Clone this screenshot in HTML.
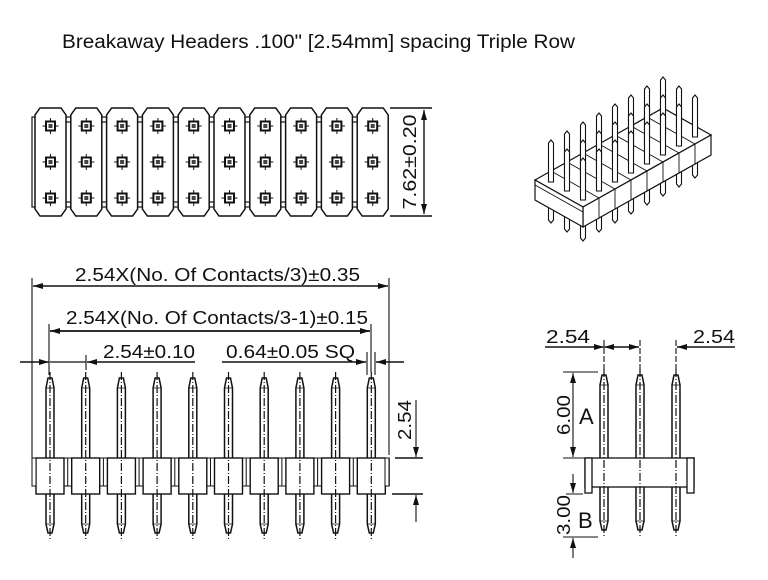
<!DOCTYPE html>
<html><head><meta charset="utf-8"><style>
html,body{margin:0;padding:0;background:#fff;}
svg{display:block;}
text{font-family:"Liberation Sans",Arial,sans-serif;fill:#111;}
</style></head><body>
<svg width="768" height="580" viewBox="0 0 768 580" xmlns="http://www.w3.org/2000/svg">
<defs>
  <marker id="ar" viewBox="0 0 10 6" refX="10" refY="3" markerWidth="10" markerHeight="6" markerUnits="userSpaceOnUse" orient="auto-start-reverse">
    <path d="M0,0 L10,3 L0,6 Z" fill="#111"/>
  </marker>
  <g id="mk">
    <path d="M-8,0 H8 M0,-8 V8" stroke="#111" stroke-width="1"/>
    <rect x="-4.5" y="-4.5" width="9" height="9" fill="#fff" stroke="#111" stroke-width="2"/>
    <rect x="-2" y="-2" width="4" height="4" fill="#444"/>
  </g>
  <g id="tb">
    <rect x="30" y="9" width="6" height="5" fill="#fff" stroke="#111" stroke-width="1.2"/>
    <rect x="30" y="94" width="6" height="5" fill="#fff" stroke="#111" stroke-width="1.2"/>
    <path d="M5,0 H26 L31,7 V101 L26,108 H5 L0,101 V7 Z" fill="#fff" stroke="#111" stroke-width="1.5"/>
    <use href="#mk" x="15.5" y="18"/>
    <use href="#mk" x="15.5" y="54"/>
    <use href="#mk" x="15.5" y="90"/>
  </g>
  <g id="fp">
    <path d="M-4,388 L-2,378 H2 L4,388 V524 L2,533 H-2 L-4,524 Z" fill="#fff" stroke="#111" stroke-width="1.5"/>
    <path d="M-4,388 H4 M-4,524 H4" stroke="#111" stroke-width="0.8"/>
  </g>
  <g id="cl">
    <path d="M0,372 V540" stroke="#111" stroke-width="1.2" stroke-dasharray="8,2,1,2"/>
  </g>
  <g id="fh">
    <rect x="-18" y="458" width="36" height="28" fill="#fff" stroke="#111" stroke-width="1"/>
    <rect x="-14" y="458" width="28" height="36" fill="#fff" stroke="#111" stroke-width="1.4"/>
  </g>
  <g id="ip">
    <path d="M-2.5,3 L0,0 L2.5,3 V42 H-2.5 Z" fill="#fff" stroke="#111" stroke-width="1.1"/>
  </g>
  <g id="lp">
    <path d="M-2.5,40 V80 L0,83 L2.5,80 V40" fill="#fff" stroke="#111" stroke-width="1.1"/>
  </g>
</defs>

<text x="62" y="48" font-size="19" textLength="513" lengthAdjust="spacingAndGlyphs">Breakaway Headers .100" [2.54mm] spacing Triple Row</text>

<!-- top view -->
<rect x="32" y="117" width="4" height="90" fill="#fff" stroke="#111" stroke-width="1.2"/>
<use href="#tb" x="35" y="108"/>
<use href="#tb" x="70.8" y="108"/>
<use href="#tb" x="106.6" y="108"/>
<use href="#tb" x="142.4" y="108"/>
<use href="#tb" x="178.2" y="108"/>
<use href="#tb" x="214" y="108"/>
<use href="#tb" x="249.8" y="108"/>
<use href="#tb" x="285.6" y="108"/>
<use href="#tb" x="321.4" y="108"/>
<path d="M362.2,108 H383.2 L388.2,115 V209 L383.2,216 H362.2 L357.2,209 V115 Z" fill="#fff" stroke="#111" stroke-width="1.5"/>
<use href="#mk" x="372.7" y="126"/><use href="#mk" x="372.7" y="162"/><use href="#mk" x="372.7" y="198"/>
<path d="M390,108 H432 M390,216 H432" stroke="#111" stroke-width="1.4"/>
<path d="M424,110 V214" stroke="#111" stroke-width="1.4" marker-start="url(#ar)" marker-end="url(#ar)"/>
<text transform="translate(416,162) rotate(-90)" text-anchor="middle" font-size="18" textLength="95" lengthAdjust="spacingAndGlyphs">7.62±0.20</text>

<!-- front view -->
<use href="#fp" x="50"/><use href="#fp" x="85.7"/><use href="#fp" x="121.4"/><use href="#fp" x="157.1"/><use href="#fp" x="192.8"/>
<use href="#fp" x="228.5"/><use href="#fp" x="264.2"/><use href="#fp" x="299.9"/><use href="#fp" x="335.6"/><use href="#fp" x="371.3"/>
<rect x="32" y="458" width="357" height="28" fill="#fff" stroke="#111" stroke-width="1"/>
<use href="#fh" x="50"/><use href="#fh" x="85.7"/><use href="#fh" x="121.4"/><use href="#fh" x="157.1"/><use href="#fh" x="192.8"/>
<use href="#fh" x="228.5"/><use href="#fh" x="264.2"/><use href="#fh" x="299.9"/><use href="#fh" x="335.6"/><use href="#fh" x="371.3"/>
<rect x="32" y="458" width="4" height="28" fill="#fff" stroke="#111" stroke-width="1"/>
<rect x="385" y="458" width="4" height="28" fill="#fff" stroke="#111" stroke-width="1"/>
<use href="#cl" x="50"/><use href="#cl" x="85.7"/><use href="#cl" x="121.4"/><use href="#cl" x="157.1"/><use href="#cl" x="192.8"/>
<use href="#cl" x="228.5"/><use href="#cl" x="264.2"/><use href="#cl" x="299.9"/><use href="#cl" x="335.6"/><use href="#cl" x="371.3"/>

<!-- dims front -->
<path d="M32,278 V458 M389,278 V455 M49,324 V375 M371,324 V372 M86,355 V370 M367,352 V375 M375,352 V375" stroke="#111" stroke-width="1.1"/>
<path d="M33,286 H388" stroke="#111" stroke-width="1.4" marker-start="url(#ar)" marker-end="url(#ar)"/>
<text x="75" y="281" font-size="18" textLength="285" lengthAdjust="spacingAndGlyphs">2.54X(No. Of Contacts/3)±0.35</text>
<path d="M50,331 H370" stroke="#111" stroke-width="1.8" marker-start="url(#ar)" marker-end="url(#ar)"/>
<text x="66" y="324" font-size="18" textLength="302" lengthAdjust="spacingAndGlyphs">2.54X(No. Of Contacts/3-1)±0.15</text>
<path d="M20,362 H49" stroke="#111" stroke-width="1.4" marker-end="url(#ar)"/>
<path d="M87,362 H195" stroke="#111" stroke-width="1.4" marker-start="url(#ar)"/>
<path d="M222,362 H366" stroke="#111" stroke-width="1.4" marker-end="url(#ar)"/>
<path d="M404,362 H376" stroke="#111" stroke-width="1.4" marker-end="url(#ar)"/>
<path d="M50,362 H86" stroke="#111" stroke-width="1.2"/>
<text x="103" y="358" font-size="18" textLength="92" lengthAdjust="spacingAndGlyphs">2.54±0.10</text>
<text x="226" y="358" font-size="18" textLength="129" lengthAdjust="spacingAndGlyphs">0.64±0.05 SQ</text>
<path d="M395,458 H423 M392,494 H423" stroke="#111" stroke-width="1.4"/>
<path d="M416,400 V457" stroke="#111" stroke-width="1.1" marker-end="url(#ar)"/>
<path d="M416,522 V495" stroke="#111" stroke-width="1.1" marker-end="url(#ar)"/>
<text transform="translate(411,420) rotate(-90)" text-anchor="middle" font-size="18" textLength="40" lengthAdjust="spacingAndGlyphs">2.54</text>

<!-- side view -->
<g transform="translate(0,-3)"><use href="#fp" x="604"/><use href="#fp" x="640"/><use href="#fp" x="676"/></g>
<rect x="585" y="458" width="109" height="29" fill="#fff" stroke="#111" stroke-width="1.3"/>
<rect x="585" y="458" width="7" height="35" fill="#fff" stroke="#111" stroke-width="1.3"/>
<rect x="687" y="458" width="7" height="35" fill="#fff" stroke="#111" stroke-width="1.3"/>
<g transform="translate(0,-3)"><use href="#cl" x="604"/><use href="#cl" x="640"/><use href="#cl" x="676"/></g>
<path d="M545,347 H604" stroke="#111" stroke-width="1.4" marker-end="url(#ar)"/>
<path d="M604,347 H639" stroke="#111" stroke-width="1.4" marker-start="url(#ar)" marker-end="url(#ar)"/>
<path d="M735,347 H677" stroke="#111" stroke-width="1.4" marker-end="url(#ar)"/>
<path d="M604,340 V370 M640,340 V370 M676,340 V370" stroke="#111" stroke-width="1.1" stroke-dasharray="6,2"/>
<text x="546" y="343" font-size="18" textLength="44" lengthAdjust="spacingAndGlyphs">2.54</text>
<text x="693" y="343" font-size="18" textLength="42" lengthAdjust="spacingAndGlyphs">2.54</text>
<path d="M563,372 H598 M563,458 H585 M566,494 H583 M563,537 H598" stroke="#111" stroke-width="1.1"/>
<path d="M573,373 V457" stroke="#111" stroke-width="1.1" marker-start="url(#ar)" marker-end="url(#ar)"/>
<path d="M573,474 V493" stroke="#111" stroke-width="1.1" marker-end="url(#ar)"/>
<path d="M573,558 V538" stroke="#111" stroke-width="1.1" marker-end="url(#ar)"/>
<text transform="translate(570,415) rotate(-90)" text-anchor="middle" font-size="18" textLength="40" lengthAdjust="spacingAndGlyphs">6.00</text>
<text x="579" y="424" font-size="22">A</text>
<text transform="translate(570,515) rotate(-90)" text-anchor="middle" font-size="18" textLength="40" lengthAdjust="spacingAndGlyphs">3.00</text>
<text x="578" y="528" font-size="22">B</text>

<!-- isometric view -->
<g>
  <use href="#lp" x="551" y="140"/><use href="#lp" x="567" y="149"/><use href="#lp" x="583" y="158"/>
  <use href="#lp" x="599" y="149"/><use href="#lp" x="615" y="140"/><use href="#lp" x="631" y="131"/>
  <use href="#lp" x="647" y="122"/><use href="#lp" x="663" y="113"/><use href="#lp" x="679" y="104"/><use href="#lp" x="695" y="95"/>
  <polygon points="535,180 663,108 711,135 583,207" fill="#fff" stroke="#111" stroke-width="1.2"/>
  <polygon points="583,207 711,135 711,155 583,227" fill="#fff" stroke="#111" stroke-width="1.2"/>
  <polygon points="535,180 583,207 583,227 535,200" fill="#fff" stroke="#111" stroke-width="1.2"/>
  <path d="M535,185 L583,212 M551,171 L599,198 M567,162 L615,189 M583,153 L631,180 M599,144 L647,171 M615,135 L663,162 M631,126 L679,153 M647,117 L695,144" stroke="#111" stroke-width="0.9"/>
  <path d="M599,198 V218 M615,189 V209 M631,180 V200 M647,171 V191 M663,162 V182 M679,153 V173 M695,144 V164" stroke="#111" stroke-width="0.9"/>
  <use href="#ip" x="663" y="77"/><use href="#ip" x="647" y="86"/><use href="#ip" x="679" y="86"/>
  <use href="#ip" x="631" y="95"/><use href="#ip" x="663" y="95"/><use href="#ip" x="695" y="95"/>
  <use href="#ip" x="615" y="104"/><use href="#ip" x="647" y="104"/><use href="#ip" x="679" y="104"/>
  <use href="#ip" x="599" y="113"/><use href="#ip" x="631" y="113"/><use href="#ip" x="663" y="113"/>
  <use href="#ip" x="583" y="122"/><use href="#ip" x="615" y="122"/><use href="#ip" x="647" y="122"/>
  <use href="#ip" x="567" y="131"/><use href="#ip" x="599" y="131"/><use href="#ip" x="631" y="131"/>
  <use href="#ip" x="551" y="140"/><use href="#ip" x="583" y="140"/><use href="#ip" x="615" y="140"/>
  <use href="#ip" x="567" y="149"/><use href="#ip" x="599" y="149"/>
  <use href="#ip" x="583" y="158"/>
</g>
</svg>
</body></html>
